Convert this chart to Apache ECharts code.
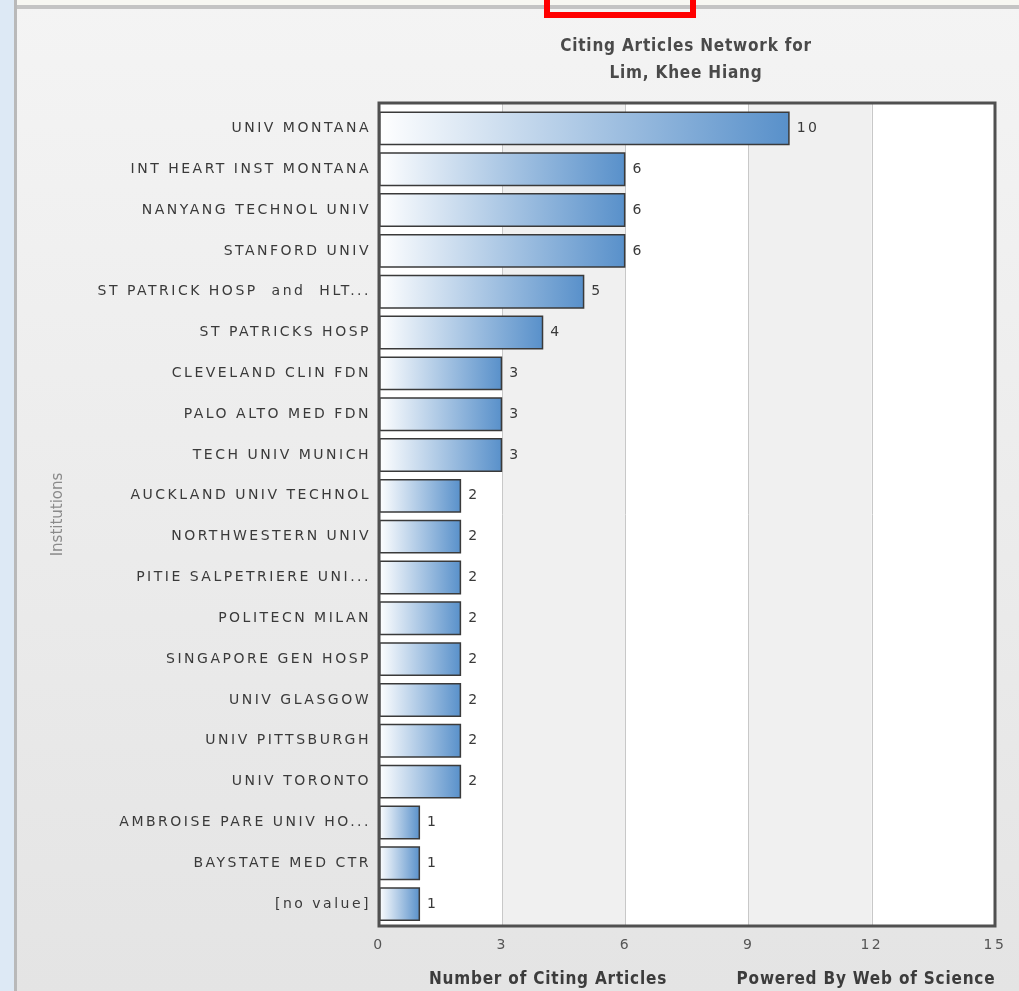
<!DOCTYPE html>
<html>
<head>
<meta charset="utf-8">
<script src="https://cdn.jsdelivr.net/npm/echarts@6/dist/echarts.min.js"></script>
<style>
html,body{margin:0;padding:0;background:#f0f0f0;}
#c{width:1019px;height:991px;}
</style>
</head>
<body>
<div id="c"></div>
<script>
// ---- data ----
const categories = [
  'UNIV MONTANA',
  'INT HEART INST MONTANA',
  'NANYANG TECHNOL UNIV',
  'STANFORD UNIV',
  'ST PATRICK HOSP  and  HLT...',
  'ST PATRICKS HOSP',
  'CLEVELAND CLIN FDN',
  'PALO ALTO MED FDN',
  'TECH UNIV MUNICH',
  'AUCKLAND UNIV TECHNOL',
  'NORTHWESTERN UNIV',
  'PITIE SALPETRIERE UNI...',
  'POLITECN MILAN',
  'SINGAPORE GEN HOSP',
  'UNIV GLASGOW',
  'UNIV PITTSBURGH',
  'UNIV TORONTO',
  'AMBROISE PARE UNIV HO...',
  'BAYSTATE MED CTR',
  '[no value]'
];
const citingCounts = [10, 6, 6, 6, 5, 4, 3, 3, 3, 2, 2, 2, 2, 2, 2, 2, 2, 1, 1, 1];
const xTicks = [0, 3, 6, 9, 12, 15];
const titleLines = ['Citing Articles Network for', 'Lim, Khee Hiang'];
const xAxisTitle = 'Number of Citing Articles';
const creditText = 'Powered By Web of Science';
const yAxisTitle = 'Institutions';

// letter spacing for the two label styles of the original
(function () {
  const P = CanvasRenderingContext2D.prototype;
  const f = P.fillText;
  P.fillText = function (t, x, y, m) {
    if ('letterSpacing' in this) {
      const fnt = this.font;
      this.letterSpacing = /Verdana/.test(fnt) ? '2.5px' : (/Tahoma/.test(fnt) ? '0.8px' : '0px');
    }
    return m === undefined ? f.call(this, t, x, y) : f.call(this, t, x, y, m);
  };
})();

const LABEL_FONT = 'Verdana, "DejaVu Sans"';
const HEAD_FONT = 'Tahoma, "DejaVu Sans Condensed", sans-serif';

const chart = echarts.init(document.getElementById('c'), null, {renderer: 'canvas', width: 1019, height: 991});

function headText(txt, x, y, fill) {
  return {type: 'text', z: 10, x: x, y: y, style: {text: txt, align: 'center', verticalAlign: 'middle', textAlign: 'center', textVerticalAlign: 'middle', fontFamily: HEAD_FONT, fontSize: 17, fontWeight: 'bold', fill: fill}};
}

const PLOT = {left: 379, right: 24, top: 103, bottom: 65};

const option = {
  animation: false,
  backgroundColor: new echarts.graphic.LinearGradient(0, 0, 0, 1, [
    {offset: 0, color: '#f4f4f4'}, {offset: 1, color: '#e4e4e4'}
  ]),
  graphic: [
    {type: 'rect', z: -10, shape: {x: 0, y: 0, width: 14, height: 991}, style: {fill: '#dde9f5'}},
    {type: 'rect', z: -10, shape: {x: 14, y: 0, width: 3, height: 991}, style: {fill: '#b9b9b9'}},
    {type: 'rect', z: -10, shape: {x: 17, y: 0, width: 1002, height: 5}, style: {fill: '#f7f7f2'}},
    {type: 'rect', z: -10, shape: {x: 17, y: 5, width: 1002, height: 4}, style: {fill: '#c4c4c4'}},
    {type: 'rect', z: 10, shape: {x: 547, y: -6, width: 146, height: 21}, style: {fill: 'none', stroke: '#ff0000', lineWidth: 6}},
    // plot frame
    {type: 'rect', z: 50, shape: {x: PLOT.left, y: PLOT.top, width: 1019 - PLOT.left - PLOT.right, height: 991 - PLOT.top - PLOT.bottom}, style: {fill: 'none', stroke: '#505050', lineWidth: 3}},
    headText(titleLines[0], 686, 47, '#4a4a4a'),
    headText(titleLines[1], 686, 74, '#4a4a4a'),
    headText(xAxisTitle, 548, 980, '#3c3c3c'),
    headText(creditText, 866, 980, '#3c3c3c')
  ],
  grid: [
    {left: PLOT.left, right: PLOT.right, top: PLOT.top, bottom: PLOT.bottom, show: true, backgroundColor: '#ffffff', borderWidth: 0},
    {left: PLOT.left, right: PLOT.right, top: 108, bottom: 66.5, show: false}
  ],
  xAxis: [{
    gridIndex: 0, type: 'value', min: xTicks[0], max: xTicks[xTicks.length - 1], interval: 3,
    axisLine: {show: false},
    axisTick: {show: false},
    axisLabel: {margin: 12, color: '#555555', fontFamily: LABEL_FONT, fontSize: 14},
    splitLine: {show: true, lineStyle: {color: '#c8c8c8', width: 1}},
    splitArea: {show: true, areaStyle: {color: ['#ffffff', '#f0f0f0']}}
  }, {
    gridIndex: 1, type: 'value', min: xTicks[0], max: xTicks[xTicks.length - 1], interval: 3,
    show: false
  }],
  yAxis: [{
    gridIndex: 0, type: 'category', data: categories, inverse: true, show: true,
    name: yAxisTitle, nameLocation: 'middle', nameGap: 313, nameRotate: 90,
    nameTextStyle: {color: '#8a8a8a', fontFamily: '"DejaVu Sans", sans-serif', fontSize: 15},
    axisLine: {show: false}, axisTick: {show: false}, axisLabel: {show: false}, splitLine: {show: false}
  }, {
    gridIndex: 1, type: 'category', data: categories, inverse: true,
    axisLine: {show: false},
    axisTick: {show: false},
    axisLabel: {margin: 8, color: '#3a3a3a', fontFamily: LABEL_FONT, fontSize: 14, interval: 0},
    splitLine: {show: false}
  }],
  series: [{
    type: 'bar', xAxisIndex: 1, yAxisIndex: 1, data: citingCounts, barCategoryGap: '17%',
    itemStyle: {
      color: new echarts.graphic.LinearGradient(0, 0, 1, 0, [
        {offset: 0, color: '#ffffff'}, {offset: 1, color: '#5890ca'}
      ]),
      borderColor: '#3a3a3a', borderWidth: 1.5
    },
    label: {show: true, position: 'right', distance: 7, color: '#3a3a3a', fontFamily: LABEL_FONT, fontSize: 14},
    emphasis: {disabled: true}
  }]
};
chart.setOption(option);
</script>
</body>
</html>
